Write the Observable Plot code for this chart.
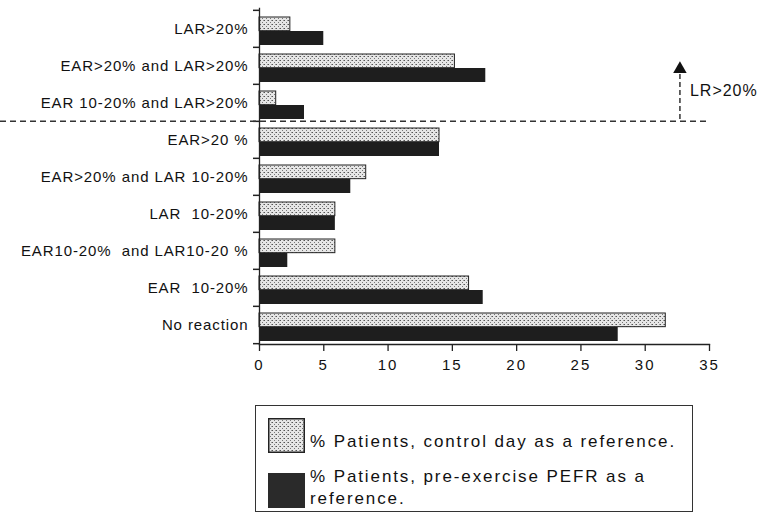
<!DOCTYPE html>
<html>
<head>
<meta charset="utf-8">
<script src="https://cdn.jsdelivr.net/npm/d3@7"></script>
<script src="https://cdn.jsdelivr.net/npm/@observablehq/plot@0.6"></script>
<style>
  html, body { margin: 0; padding: 0; background: #fff; }
  #wrap { position: relative; width: 761px; height: 513px; font-family: "Liberation Sans", Arial, sans-serif; }
  svg [aria-label="x-axis tick label"] text { letter-spacing: 2px; }
  svg [aria-label="y-axis tick label"] text { letter-spacing: 0.9px; }
  svg g[aria-label="text"] text { letter-spacing: 1px; }
  #legend { position: absolute; left: 255px; top: 405px; width: 436px; height: 105px; border: 1.5px solid #333; background: #fff; }
  .sw { position: absolute; left: 12px; width: 37px; height: 35px; box-sizing: border-box; }
  .lt { position: absolute; left: 54px; font-size: 17px; letter-spacing: 1.9px; color: #111; line-height: 22px; white-space: nowrap; }
</style>
</head>
<body>
<div id="wrap">
  <div id="chart"></div>
  <div id="legend">
    <svg class="sw" style="top:12px" width="37" height="35"><defs><pattern id="stipL" width="4" height="4" patternUnits="userSpaceOnUse"><rect width="4" height="4" fill="#e6e6e6"/><rect x="0" y="0" width="1" height="1" fill="#555"/><rect x="2" y="2" width="1" height="1" fill="#777"/><rect x="3" y="0" width="1" height="1" fill="#999"/></pattern></defs><rect x="0.75" y="0.75" width="35.5" height="33.5" fill="url(#stipL)" stroke="#222" stroke-width="1.5"/></svg>
    <div class="lt" style="top:25px">% Patients, control day as a reference.</div>
    <div class="sw" style="top:67px;background:#2a2a2a"></div>
    <div class="lt" style="top:60px">% Patients, pre-exercise PEFR as a<br>reference.</div>
  </div>
</div>
<script>
const categories = [
  "LAR>20%",
  "EAR>20% and LAR>20%",
  "EAR 10-20% and LAR>20%",
  "EAR>20 %",
  "EAR>20% and LAR 10-20%",
  "LAR\u00a0 10-20%",
  "EAR10-20%\u00a0 and LAR10-20 %",
  "EAR\u00a0 10-20%",
  "No reaction"
];
const controlDay  = [2.4, 15.2, 1.3, 14.0, 8.3, 5.9, 5.9, 16.3, 31.6];
const preExercise = [5.0, 17.6, 3.5, 14.0, 7.1, 5.9, 2.2, 17.4, 27.9];
const xTicks = [0, 5, 10, 15, 20, 25, 30, 35];
const thresholdCategory = "EAR>20 %";      // first category below the LR>20% line
const arrowCategory = "EAR 10-20% and LAR>20%";
const arrowX = 32.7;
const arrowLabel = "LR>20%";

const W = 761, H = 385, mL = 259, mR = 52, mT = 8, mB = 41;
const bw = (H - mT - mB) / categories.length;

const rows = categories.map((c, i) => ({cat: c, control: controlDay[i], pre: preExercise[i]}));

const plot = Plot.plot({
  width: W, height: H,
  marginLeft: mL, marginRight: mR, marginTop: mT, marginBottom: mB,
  style: {fontFamily: "'Liberation Sans', Arial, sans-serif", fontSize: "15px", color: "#111", background: "transparent"},
  x: {domain: [0, 35], ticks: xTicks},
  y: {domain: categories, padding: 0},
  marks: [
    Plot.barX(rows, {y: "cat", x: "control", fill: "url(#stip)", stroke: "#222", strokeWidth: 1, insetTop: 7, insetBottom: bw - 21}),
    Plot.barX(rows, {y: "cat", x: "pre", fill: "#1e1e1e", insetTop: 21, insetBottom: 2}),
    Plot.frame({anchor: "left", stroke: "#222", strokeWidth: 1.3}),
    Plot.frame({anchor: "bottom", stroke: "#222", strokeWidth: 1.3}),
    Plot.axisY({tickSize: 6, tickFormat: () => "", dy: -bw / 2, stroke: "#222", strokeWidth: 1.5, label: null}),
    Plot.axisY({ticks: categories.slice(-1), tickSize: 6, tickFormat: () => "", dy: bw / 2, stroke: "#222", strokeWidth: 1.5, label: null}),
    Plot.axisX({ticks: xTicks, tickSize: 7, tickPadding: 8, fontSize: 15, tickFormat: d => d, stroke: "#222", strokeWidth: 1.3, label: null}),
    Plot.axisY({tickSize: 0, tickPadding: 11, fontSize: 15, label: null}),
    Plot.ruleY([thresholdCategory], {y: d => d, dy: -bw / 2, stroke: "#333", strokeWidth: 1.5, strokeDasharray: "6,4", insetLeft: -mL, insetRight: -1}),
    Plot.tickX([arrowX], {x: d => d, y: () => arrowCategory, stroke: "#333", strokeWidth: 1.5, strokeDasharray: "5,3", insetTop: -10, insetBottom: 0}),
    Plot.dot([arrowX], {x: d => d, y: () => arrowCategory, dy: -34, symbol: "triangle", r: 5, fill: "#111", stroke: "none"}),
    Plot.text([arrowLabel], {x: () => arrowX, y: () => arrowCategory, text: d => d, dx: 10, dy: -12, textAnchor: "start", fontSize: 16, fill: "#111"})
  ]
});

const svg = d3.select(plot);
const defs = svg.insert("defs", ":first-child");
const pat = defs.append("pattern").attr("id", "stip").attr("width", 4).attr("height", 4).attr("patternUnits", "userSpaceOnUse");
pat.append("rect").attr("width", 4).attr("height", 4).attr("fill", "#e6e6e6");
pat.append("rect").attr("x", 0).attr("y", 0).attr("width", 1).attr("height", 1).attr("fill", "#555");
pat.append("rect").attr("x", 2).attr("y", 2).attr("width", 1).attr("height", 1).attr("fill", "#777");
pat.append("rect").attr("x", 3).attr("y", 0).attr("width", 1).attr("height", 1).attr("fill", "#999");
document.getElementById("chart").appendChild(plot);
</script>
</body>
</html>
